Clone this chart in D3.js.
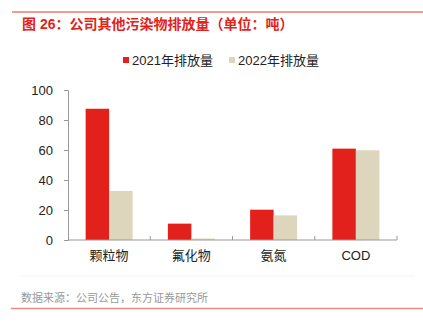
<!DOCTYPE html>
<html>
<head>
<meta charset="utf-8">
<script src="https://cdn.jsdelivr.net/npm/d3@7"></script>
<style>
  body { margin: 0; background: #fff; }
  text { font-family: "Liberation Sans", "Noto Sans CJK SC", sans-serif; }
</style>
</head>
<body>
<svg id="chart" width="423" height="322"></svg>
<script>
// data
const categories = ["颗粒物", "氟化物", "氨氮", "COD"];
const seriesNames = ["2021年排放量", "2022年排放量"];
const values2021 = [87.5, 10.9, 20.2, 60.9];
const values2022 = [32.7, 1.0, 16.4, 59.8];
const yTicks = [0, 20, 40, 60, 80, 100];

const colors = ["#E2211C", "#DED5BD"];

const svg = d3.select("#chart"),
      margin = { top: 90, right: 26, bottom: 82, left: 68 },
      plotWidth = 423 - margin.left - margin.right,
      plotHeight = 322 - margin.top - margin.bottom;

// top line + title
svg.append("line")
  .attr("x1", 12).attr("x2", 423).attr("y1", 12).attr("y2", 12)
  .attr("stroke", "#E8372F").attr("stroke-width", 1);

svg.append("text")
  .attr("x", 22).attr("y", 29)
  .attr("font-size", "14px")
  .attr("font-weight", "bold")
  .attr("fill", "#E2231A")
  .text("图 26：公司其他污染物排放量（单位：吨）");

const g = svg.append("g")
  .attr("transform", `translate(${margin.left},${margin.top})`);

const x = d3.scaleBand().domain(categories).range([0, plotWidth]);
const y = d3.scaleLinear().domain([0, 100]).range([plotHeight, 0]);
const xSub = d3.scaleBand().domain([0, 1])
  .range([0, x.bandwidth()]).paddingOuter(0.75).paddingInner(0);

// y axis
const yAxis = g.append("g")
  .call(d3.axisLeft(y).tickValues(yTicks).tickSize(4).tickPadding(11));
yAxis.select(".domain").attr("stroke", "#999");
yAxis.selectAll(".tick line").attr("stroke", "#999");
yAxis.selectAll("text").attr("font-size", "13px").attr("fill", "#222");

// bars
const series = [values2021, values2022];
series.forEach((vals, s) => {
  g.selectAll(null)
    .data(categories)
    .enter().append("rect")
    .attr("x", (d, i) => x(d) + xSub(s))
    .attr("y", (d, i) => y(vals[i]))
    .attr("width", xSub.bandwidth())
    .attr("height", (d, i) => plotHeight - y(vals[i]))
    .attr("fill", colors[s]);
});

// x axis
const xAxisG = g.append("g").attr("transform", `translate(0,${plotHeight})`);
xAxisG.append("line")
  .attr("x1", 0).attr("x2", plotWidth)
  .attr("stroke", "#999");
xAxisG.selectAll(null)
  .data(categories.slice(1).map(c => x(c)).concat([plotWidth]))
  .enter().append("line")
  .attr("x1", d => d).attr("x2", d => d)
  .attr("y1", 0).attr("y2", -4)
  .attr("stroke", "#999");
xAxisG.selectAll(null)
  .data(categories)
  .enter().append("text")
  .attr("x", d => x(d) + x.bandwidth() / 2)
  .attr("y", 20)
  .attr("text-anchor", "middle")
  .attr("font-size", "13px")
  .attr("fill", "#222")
  .text(d => d);

// legend
const legendX = [123, 229];
const legend = svg.append("g");
seriesNames.forEach((name, i) => {
  legend.append("rect")
    .attr("x", legendX[i]).attr("y", 57)
    .attr("width", 6).attr("height", 6)
    .attr("fill", colors[i]);
  legend.append("text")
    .attr("x", legendX[i] + 9).attr("y", 65)
    .attr("font-size", "13px")
    .attr("fill", "#222")
    .text(name);
});

// source + bottom line
svg.append("line")
  .attr("x1", 20).attr("x2", 415).attr("y1", 276).attr("y2", 276)
  .attr("stroke", "#f4f4f4");
svg.append("text")
  .attr("x", 21).attr("y", 302)
  .attr("font-size", "11px")
  .attr("fill", "#999")
  .text("数据来源：公司公告，东方证券研究所");
svg.append("line")
  .attr("x1", 11).attr("x2", 423).attr("y1", 308.5).attr("y2", 308.5)
  .attr("stroke", "#EE8A80").attr("stroke-width", 1.5);
</script>
</body>
</html>
